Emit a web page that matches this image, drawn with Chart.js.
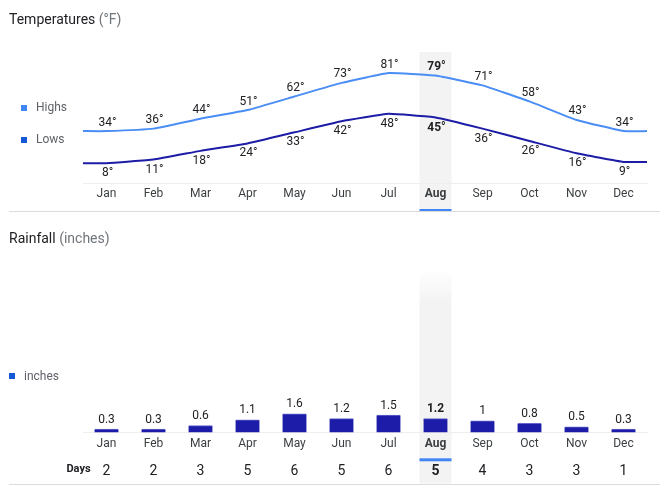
<!DOCTYPE html>
<html>
<head>
<meta charset="utf-8">
<script src="https://cdn.jsdelivr.net/npm/chart.js@4.4.0/dist/chart.umd.min.js"></script>
<style>
body { margin: 0; background: #fff; font-family: Roboto, Arial, sans-serif; }
#wrap { position: relative; width: 669px; height: 493px; overflow: hidden; }
canvas { position: absolute; left: 0; }
.title { position: absolute; left: 9px; font-size: 14px; line-height: 16px; color: #202124; white-space: nowrap; }
.title span { color: #70757a; }
.leg { position: absolute; font-size: 12px; line-height: 14px; color: #5f6368; }
.leg i { position: absolute; left: -15px; width: 6px; height: 6px; }
.sep { position: absolute; left: 9px; width: 651px; height: 1px; background: #dadce0; }
</style>
</head>
<body>
<div id="wrap">
  <canvas id="temps" width="669" height="215" style="top:0"></canvas>
  <canvas id="rain" width="669" height="278" style="top:215px"></canvas>

  <div class="title" style="top:11px">Temperatures <span>(°F)</span></div>
  <div class="leg" style="left:36px;top:100px"><i style="top:5px;background:#4285f4"></i>Highs</div>
  <div class="leg" style="left:36px;top:132px"><i style="top:5px;background:#1558d6"></i>Lows</div>
  <div class="sep" style="top:211px"></div>

  <div class="title" style="top:230px">Rainfall <span>(inches)</span></div>
  <div class="leg" style="left:24px;top:369px"><i style="top:4px;background:#1558d6"></i>inches</div>
  <div class="sep" style="top:484px"></div>
</div>
<script>
// data
const months = ['Jan', 'Feb', 'Mar', 'Apr', 'May', 'Jun', 'Jul', 'Aug', 'Sep', 'Oct', 'Nov', 'Dec'];
const highs = [34, 36, 44, 51, 62, 73, 81, 79, 71, 58, 43, 34];
const lows = [8, 11, 18, 24, 33, 42, 48, 45, 36, 26, 16, 9];
const rainInches = [0.3, 0.3, 0.6, 1.1, 1.6, 1.2, 1.5, 1.2, 1, 0.8, 0.5, 0.3];
const rainDays = [2, 2, 3, 5, 6, 5, 6, 5, 4, 3, 3, 1];
const focus = 7; // Aug is the selected month

const FONT = 'Roboto, Arial, sans-serif';
const TEXT = '#202124';

// line runs edge to edge: hold first / last value out to the column borders
function edgeLine(vals) {
  const pts = vals.map((v, i) => ({ x: i, y: v }));
  pts.unshift({ x: -0.5, y: vals[0] });
  pts.push({ x: vals.length - 0.5, y: vals[vals.length - 1] });
  return pts;
}

const tempBand = {
  id: 'tempBand',
  beforeDraw(chart) {
    const { ctx, chartArea, scales } = chart;
    const cx = scales.x.getPixelForValue(focus);
    ctx.save();
    ctx.fillStyle = '#f3f3f3';
    ctx.fillRect(cx - 16, chartArea.top, 32, 209 - chartArea.top);
    ctx.fillStyle = '#4285f4';
    ctx.fillRect(cx - 16, 209, 32, 3);
    ctx.restore();
  }
};

const tempLabels = {
  id: 'tempLabels',
  afterDatasetsDraw(chart) {
    const ctx = chart.ctx;
    ctx.save();
    ctx.textAlign = 'center';
    ctx.textBaseline = 'middle';
    ctx.fillStyle = TEXT;
    chart.data.datasets.forEach((ds, di) => {
      const meta = chart.getDatasetMeta(di);
      const vals = di === 0 ? highs : lows;
      const dy = di === 0 ? -8.5 : 10;
      vals.forEach((v, i) => {
        const pt = meta.data[i + 1];
        ctx.font = (i === focus ? 'bold ' : '') + '12px ' + FONT;
        ctx.fillText(v + '°', pt.x + 1, pt.y + dy);
      });
    });
    ctx.restore();
  }
};

new Chart(document.getElementById('temps'), {
  type: 'line',
  data: {
    datasets: [
      { label: 'Highs', data: edgeLine(highs), borderColor: '#4a8ef5', borderWidth: 2, pointRadius: 0, tension: 0.1 },
      { label: 'Lows', data: edgeLine(lows), borderColor: '#1c1ca6', borderWidth: 2, pointRadius: 0, tension: 0.1 }
    ]
  },
  options: {
    responsive: false,
    animation: false,
    layout: { padding: { left: 83, right: 22, top: 52, bottom: 9.6 } },
    plugins: { legend: { display: false }, tooltip: { enabled: false } },
    scales: {
      x: {
        type: 'linear',
        min: -0.5,
        max: months.length - 0.5,
        afterBuildTicks: axis => { axis.ticks = months.map((m, i) => ({ value: i })); },
        grid: { display: false, drawTicks: false },
        border: { color: '#eeeeee', width: 1 },
        ticks: {
          autoSkip: false,
          padding: 4,
          color: '#3c4043',
          font: c => ({ family: FONT, size: 12, weight: c.index === focus ? 'bold' : 'normal' }),
          callback: v => months[v]
        }
      },
      y: { display: false, min: -8, max: 98 }
    }
  },
  plugins: [tempBand, tempLabels]
});

const rainBand = {
  id: 'rainBand',
  beforeDraw(chart) {
    const { ctx, chartArea, scales } = chart;
    const cx = scales.x.getPixelForValue(focus);
    const top = chartArea.top;
    ctx.save();
    const g = ctx.createLinearGradient(0, top, 0, top + 32);
    g.addColorStop(0, 'rgba(243,243,243,0)');
    g.addColorStop(1, '#f3f3f3');
    ctx.fillStyle = g;
    ctx.fillRect(cx - 16, top, 32, 32);
    ctx.fillStyle = '#f3f3f3';
    ctx.fillRect(cx - 16, top + 32, 32, 268.5 - top - 32);
    ctx.fillStyle = '#4285f4';
    ctx.fillRect(cx - 16, 243.3, 32, 3);
    ctx.restore();
  }
};

const rainLabels = {
  id: 'rainLabels',
  afterDatasetsDraw(chart) {
    const ctx = chart.ctx;
    const meta = chart.getDatasetMeta(0);
    ctx.save();
    ctx.textAlign = 'center';
    ctx.textBaseline = 'middle';
    ctx.fillStyle = TEXT;
    rainInches.forEach((v, i) => {
      const bar = meta.data[i];
      ctx.font = (i === focus ? 'bold ' : '') + '12px ' + FONT;
      ctx.fillText(String(v), bar.x, bar.y - 9.5);
    });
    // rainy days row under the month labels
    ctx.font = 'bold 11px ' + FONT;
    ctx.fillText('Days', 78.5, 254);
    rainDays.forEach((d, i) => {
      const x = chart.scales.x.getPixelForValue(i);
      ctx.font = (i === focus ? 'bold ' : '') + '14px ' + FONT;
      ctx.fillText(String(d), x, 256);
    });
    ctx.restore();
  }
};

new Chart(document.getElementById('rain'), {
  type: 'bar',
  data: {
    labels: months,
    datasets: [{
      label: 'inches',
      data: rainInches,
      backgroundColor: '#1c1ca8',
      borderColor: '#6464cc',
      borderWidth: { top: 1, left: 0, right: 0, bottom: 0 },
      borderSkipped: 'start',
      barThickness: 24
    }]
  },
  options: {
    responsive: false,
    animation: false,
    layout: { padding: { left: 83, right: 22, top: 55, bottom: 38 } },
    plugins: { legend: { display: false }, tooltip: { enabled: false } },
    scales: {
      x: {
        grid: { display: false, drawTicks: false },
        border: { color: '#eeeeee', width: 1 },
        ticks: {
          autoSkip: false,
          padding: 4,
          color: '#3c4043',
          font: c => ({ family: FONT, size: 12, weight: c.index === focus ? 'bold' : 'normal' })
        }
      },
      y: { display: false, min: 0, max: 13.9 }
    }
  },
  plugins: [rainBand, rainLabels]
});
</script>
</body>
</html>
